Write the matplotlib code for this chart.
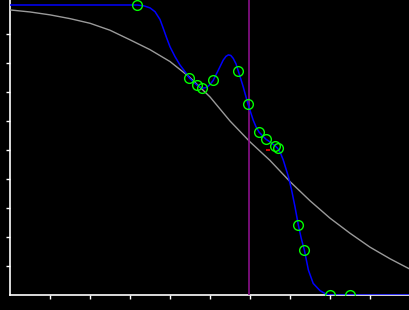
import numpy as np
import matplotlib
matplotlib.use('Agg')
import matplotlib.pyplot as plt

# gray reference curve
ref_x = [0, 0.5, 1.0, 1.5, 2.0, 2.5, 3.0, 3.5, 4.0, 4.5, 5.0, 5.5, 6.0, 6.5,
         7.0, 7.5, 8.0, 8.5, 9.0, 9.5, 10.0]
ref_y = [0.983, 0.976, 0.966, 0.953, 0.937, 0.913, 0.880, 0.846, 0.805, 0.750,
         0.683, 0.600, 0.528, 0.464, 0.391, 0.325, 0.265, 0.213, 0.165, 0.125, 0.089]

# blue fitted curve
fit_x = [0.0, 3.18, 3.35, 3.5, 3.625, 3.75, 3.83, 3.92, 4.0, 4.125, 4.25, 4.375,
         4.48, 4.58, 4.68, 4.81, 4.92, 5.0, 5.08, 5.21, 5.33, 5.40, 5.46, 5.52, 5.58,
         5.65, 5.71, 5.77, 5.83, 5.95, 6.08, 6.15, 6.23, 6.40, 6.52, 6.63, 6.69, 6.76,
         6.83, 6.96, 7.04, 7.125, 7.21, 7.28, 7.36, 7.46, 7.58, 7.75, 7.9, 8.0, 10.0]
fit_y = [1.0, 1.0, 0.997, 0.99, 0.977, 0.95, 0.92, 0.885, 0.856, 0.822, 0.793, 0.770,
         0.749, 0.735, 0.723, 0.713, 0.716, 0.726, 0.740, 0.776, 0.810, 0.823, 0.828, 0.826,
         0.816, 0.797, 0.771, 0.745, 0.718, 0.658, 0.603, 0.580, 0.561, 0.537, 0.526,
         0.514, 0.506, 0.490, 0.466, 0.408, 0.362, 0.304, 0.240, 0.196, 0.154, 0.086,
         0.040, 0.015, 0.003, 0.0, 0.0]

# observed points (green circles)
obs_x = [3.18, 4.48, 4.68, 4.81, 5.08, 5.71, 5.95, 6.23, 6.40, 6.63, 6.69,
         7.21, 7.36, 8.0, 8.5]
obs_y = [1.0, 0.749, 0.723, 0.713, 0.740, 0.771, 0.658, 0.561, 0.537, 0.514, 0.506,
         0.240, 0.154, 0.0, 0.0]

vline_x = 5.98
red_pt = (6.45, 0.5)

fig = plt.figure(figsize=(4.1, 3.1), dpi=100, facecolor='black')
ax = fig.add_axes([10/410, 15/310, 400/410, 295/310], facecolor='black')

ax.plot(ref_x, ref_y, color='#9a9a9a', lw=1.0, zorder=2)
ax.axvline(vline_x, color='#8a108a', lw=1.2, zorder=2)
ax.plot(fit_x, fit_y, color='#0000ff', lw=1.1, zorder=3)
ax.plot(obs_x, obs_y, 'o', ms=7, mfc='none', mec='#00ff00', mew=1.0, zorder=4)
ax.plot([red_pt[0]], [red_pt[1]], marker='_', color='red', ms=2.5, mew=1.2, zorder=4)

ax.set_xlim(0, 10)
ax.set_ylim(0, 295/290)
ax.set_xticks(np.arange(1, 10))
ax.set_yticks(np.arange(1, 10) / 10)
ax.set_xticklabels([])
ax.set_yticklabels([])
ax.tick_params(colors='white', direction='out', length=3, width=1)

for s in ['top', 'right']:
    ax.spines[s].set_visible(False)
for s in ['left', 'bottom']:
    ax.spines[s].set_color('white')
    ax.spines[s].set_linewidth(1.2)
    ax.spines[s].set_zorder(1)

fig.savefig('out.png', dpi=100, facecolor='black')
